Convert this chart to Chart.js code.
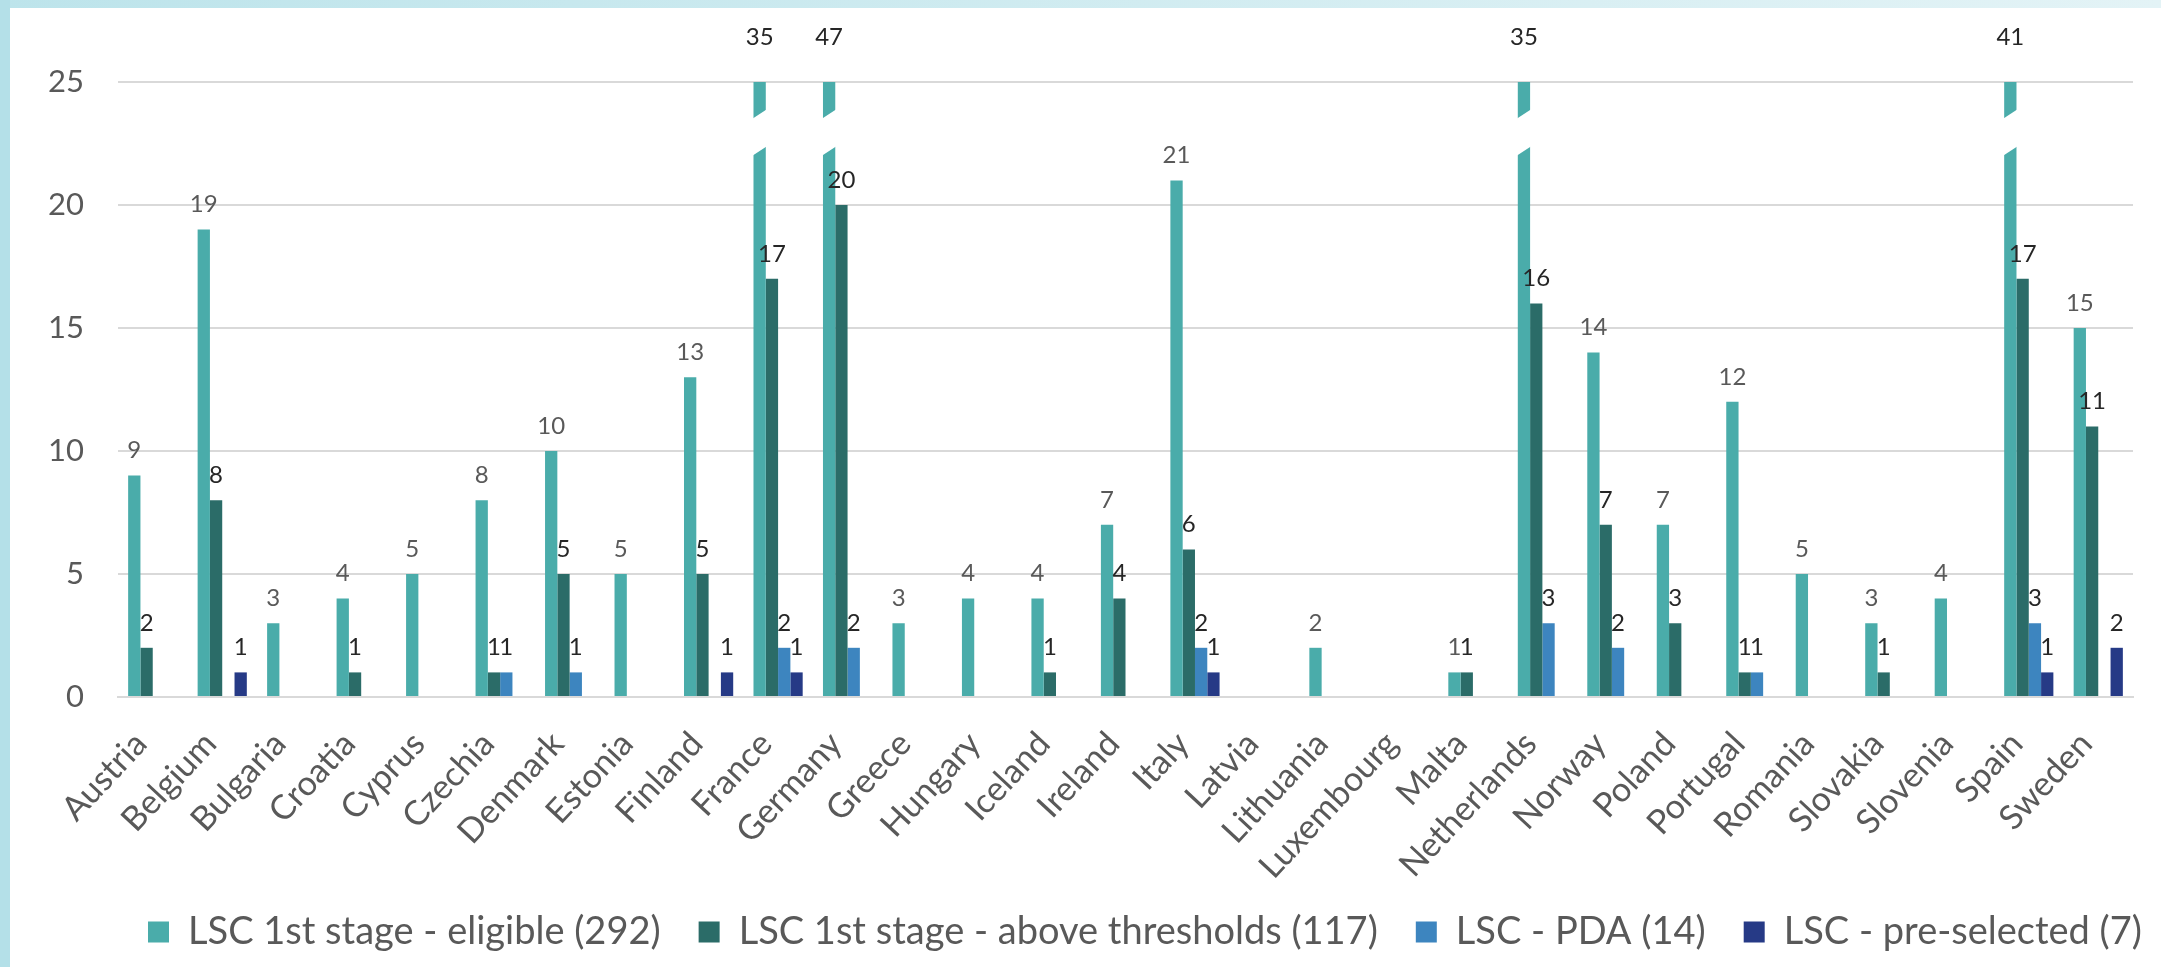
<!DOCTYPE html>
<html>
<head>
<meta charset="utf-8">
<script src="https://cdn.jsdelivr.net/npm/chart.js@4.4.1/dist/chart.umd.min.js"></script>
<style>
  html, body { margin: 0; padding: 0; background: #ffffff; overflow: hidden; }
  #wrap { position: relative; width: 2161px; height: 967px; }
  canvas { display: block; }
</style>
</head>
<body>
<div id="wrap"><canvas id="c" width="2161" height="967"></canvas></div>
<script>
// ---- data ----
const countries = ['Austria','Belgium','Bulgaria','Croatia','Cyprus','Czechia','Denmark','Estonia','Finland','France','Germany','Greece','Hungary','Iceland','Ireland','Italy','Latvia','Lithuania','Luxembourg','Malta','Netherlands','Norway','Poland','Portugal','Romania','Slovakia','Slovenia','Spain','Sweden'];
const eligible        = [9,19,3,4,5,8,10,5,13,35,47,3,4,4,7,21,0,2,0,1,35,14,7,12,5,3,4,41,15];
const aboveThresholds = [2,8,0,1,0,1,5,0,5,17,20,0,0,1,4,6,0,0,0,1,16,7,3,1,0,1,0,17,11];
const pda             = [0,0,0,0,0,1,1,0,0,2,2,0,0,0,0,2,0,0,0,0,3,2,0,1,0,0,0,3,0];
const preSelected     = [0,1,0,0,0,0,0,0,1,1,0,0,0,0,0,1,0,0,0,0,0,0,0,0,0,0,0,1,2];
const seriesNames = ['LSC 1st stage - eligible (292)','LSC 1st stage - above thresholds (117)','LSC - PDA (14)','LSC - pre-selected (7)'];
const yTicks = [0,5,10,15,20,25];
const yMax = 25;
const breakRange = [22.2, 23.7];

// ---- styles ----
const colors = ['#4aacaa','#2b6c68','#3d85bf','#263a86'];
const labelColors = ['#595959','#262626','#262626','#262626'];
const FONT = 'Lato';
const LEGEND_PAD = 38;
const LEGEND_FONT = 38;

const bgPlugin = {
  id: 'bg',
  beforeDraw(chart) {
    const ctx = chart.ctx, W = chart.width, H = chart.height;
    ctx.save();
    ctx.fillStyle = '#b4e0e8';
    ctx.fillRect(0, 0, W, H);
    const g = ctx.createLinearGradient(0, 0, W, 0);
    g.addColorStop(0, '#bde4eb');
    g.addColorStop(1, '#e3f3f6');
    ctx.fillStyle = g;
    ctx.fillRect(10, 0, W - 10, 8);
    ctx.fillStyle = '#ffffff';
    ctx.fillRect(10, 8, W - 10, H - 8);
    ctx.restore();
  }
};

const layoutFix = {
  id: 'layoutFix',
  afterLayout(chart) {
    const lg = chart.legend;
    if (lg && lg.lineWidths) {
      const p = lg.options.labels.padding;
      const start = (lg.left + p + lg.right - lg.lineWidths[0]) / 2;
      const dx = 148 - start;
      lg.left += dx; lg.right += dx;
      const itemH = lg.options.labels.font.size;
      const dy = 932 - (lg.top + p + itemH / 2);
      lg.top += dy; lg.bottom += dy;
    }
    // let the rotated category labels use the full height below the axis (no clipping)
    const xs = chart.scales.x;
    xs.bottom = chart.height;
    xs.height = xs.bottom - xs.top;
  }
};

const labelsPlugin = {
  id: 'valueLabels',
  afterDatasetsDraw(chart) {
    const ctx = chart.ctx, area = chart.chartArea, ys = chart.scales.y;
    ctx.save();
    chart.data.datasets.forEach((ds, di) => {
      const meta = chart.getDatasetMeta(di);
      meta.data.forEach((bar, i) => {
        const v = ds.data[i];
        if (!v) return;
        const w = bar.width;
        let ly;
        if (v > yMax) {
          const yHi = ys.getPixelForValue(breakRange[1]);
          const yLo = ys.getPixelForValue(breakRange[0]);
          const l = bar.x - w / 2 - 1.5, r = bar.x + w / 2 + 1.5, s = 5;
          ctx.fillStyle = '#ffffff';
          ctx.beginPath();
          ctx.moveTo(l, yHi + s);
          ctx.lineTo(r, yHi - s);
          ctx.lineTo(r, yLo - s);
          ctx.lineTo(l, yLo + s);
          ctx.closePath();
          ctx.fill();
          ly = area.top - 45;
          ctx.fillStyle = '#262626';
        } else {
          ly = bar.y - 25;
          ctx.fillStyle = labelColors[di];
        }
        ctx.font = '24px ' + FONT;
        ctx.textAlign = 'center';
        ctx.textBaseline = 'middle';
        ctx.fillText(String(v), bar.x, ly);
      });
    });
    ctx.restore();
  }
};

const seriesData = [eligible, aboveThresholds, pda, preSelected];

new Chart(document.getElementById('c'), {
  type: 'bar',
  data: {
    labels: countries,
    datasets: seriesData.map((d, i) => ({
      label: seriesNames[i],
      data: d,
      backgroundColor: colors[i],
      borderWidth: 0,
      categoryPercentage: 0.708,
      barPercentage: 1.0,
      clip: 0
    }))
  },
  options: {
    responsive: false,
    animation: false,
    devicePixelRatio: 1,
    layout: { padding: { top: 82, right: 28, left: 0, bottom: 0 } },
    plugins: {
      tooltip: { enabled: false },
      legend: {
        position: 'bottom',
        labels: {
          boxWidth: 21, boxHeight: 21, padding: LEGEND_PAD,
          color: '#595959',
          font: { family: FONT, size: LEGEND_FONT }
        }
      }
    },
    scales: {
      x: {
        grid: { display: false, drawTicks: false },
        border: { display: true, color: '#d9d9d9', width: 2 },
        ticks: {
          autoSkip: false, minRotation: 47, maxRotation: 47, padding: 27, labelOffset: -12,
          color: '#595959', font: { family: FONT, size: 34 }
        },
        afterFit(s) { s.height = 967 - (LEGEND_FONT + LEGEND_PAD + 10) - 697; }
      },
      y: {
        min: 0, max: yMax,
        grid: { color: '#d9d9d9', lineWidth: 2, drawTicks: false },
        border: { display: false },
        ticks: { padding: 34, color: '#595959', font: { family: FONT, size: 31 } },
        afterBuildTicks(s) { s.ticks = yTicks.map(v => ({ value: v })); },
        afterFit(s) { s.width = 118; }
      }
    }
  },
  plugins: [bgPlugin, layoutFix, labelsPlugin]
});
</script>
</body>
</html>
